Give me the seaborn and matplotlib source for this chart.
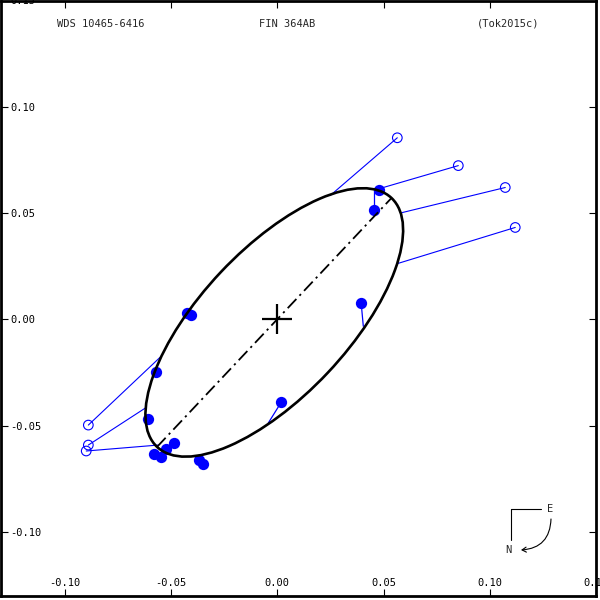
import numpy as np
import pandas as pd
import matplotlib
matplotlib.use("Agg")
import matplotlib.pyplot as plt
import seaborn as sns
from matplotlib.patches import Ellipse, FancyArrowPatch

# ---------------- data ----------------
# filled measurements (relative position of B w.r.t. A, arcsec)
obs_x = [0.0480, 0.0456, 0.0395, 0.0019, -0.0424, -0.0405, -0.0569, -0.0607,
         -0.0579, -0.0546, -0.0522, -0.0485, -0.0367, -0.0348]
obs_y = [0.0610, 0.0512, 0.0075, -0.0390, 0.0028, 0.0019, -0.0249, -0.0469,
         -0.0634, -0.0648, -0.0610, -0.0582, -0.0662, -0.0681]
# O-C segments of filled measurements (observed -> computed)
oc_obs_x = [0.0456, 0.0395, 0.0019]
oc_obs_y = [0.0512, 0.0075, -0.0390]
oc_fit_x = [0.0456, 0.0405, -0.0042]
oc_fit_y = [0.0606, -0.0033, -0.0488]
# open-circle measurements and their computed positions
open_x = [0.0565, 0.0852, 0.1073, 0.1120, -0.0889, -0.0889, -0.0899]
open_y = [0.0854, 0.0723, 0.0620, 0.0432, -0.0498, -0.0592, -0.0620]
open_fit_x = [0.0249, 0.0499, 0.0588, 0.0569, -0.0546, -0.0621, -0.0560]
open_fit_y = [0.0582, 0.0620, 0.0502, 0.0263, -0.0174, -0.0418, -0.0592]
# orbit ellipse
orbit_center = (-0.0014, -0.0015)
orbit_width = 0.1609
orbit_height = 0.0691
orbit_angle = 46.7
# line of apsides
apsides_x = [-0.0566, 0.0538]
apsides_y = [-0.0601, 0.0571]
# ticks
tick_values = [-0.10, -0.05, 0.00, 0.05, 0.10, 0.15]
tick_labels = ["-0.10", "-0.05", "0.00", "0.05", "0.10", "0.15"]
title_left = "WDS 10465-6416"
title_mid = "FIN 364AB"
title_right = "(Tok2015c)"

# ---------------- style ----------------
sns.set_theme(style="white")
plt.rcParams["font.family"] = ["DejaVu Sans Mono", "DejaVu Sans"]
plt.rcParams["axes.unicode_minus"] = False
FS = 7.5
BLUE = "#0000ff"

fig = plt.figure(figsize=(6, 6), dpi=100)
ax = fig.add_axes([1.0 / 600, 4.5 / 600, 595.0 / 600, 595.0 / 600])
ax.set_xlim(-0.13, 0.15)
ax.set_ylim(-0.13, 0.15)

# O-C lines
for xs, ys, xf, yf in zip(open_x, open_y, open_fit_x, open_fit_y):
    ax.plot([xs, xf], [ys, yf], color=BLUE, lw=0.8, zorder=1)
for xs, ys, xf, yf in zip(oc_obs_x, oc_obs_y, oc_fit_x, oc_fit_y):
    ax.plot([xs, xf], [ys, yf], color=BLUE, lw=0.9, zorder=1)

df_obs = pd.DataFrame({"x": obs_x, "y": obs_y})
df_open = pd.DataFrame({"x": open_x, "y": open_y})
sns.scatterplot(data=df_obs, x="x", y="y", ax=ax, color=BLUE, s=66,
                linewidth=0, zorder=2)
sns.scatterplot(data=df_open, x="x", y="y", ax=ax, s=48, marker="o",
                facecolor="none", edgecolor=BLUE, linewidth=0.8, zorder=2)

ell = Ellipse(orbit_center, orbit_width, orbit_height, angle=orbit_angle,
              fill=False, edgecolor="black", lw=1.9, zorder=3)
ax.add_patch(ell)
ax.plot(apsides_x, apsides_y, color="black", lw=1.3,
        dashes=(7, 2.5, 1.2, 2.5), zorder=3)
ax.plot([0], [0], marker="+", color="black", markersize=22, mew=1.6, zorder=4)

ax.set_xlabel("")
ax.set_ylabel("")
ax.set_xticks(tick_values)
ax.set_yticks(tick_values)
ax.set_xticklabels(tick_labels)
ax.set_yticklabels(tick_labels)
ax.tick_params(axis="both", which="both", direction="in", length=5, width=0.8,
               colors="black", labelsize=FS, top=True, right=True,
               bottom=True, left=True)
ax.tick_params(axis="x", pad=-12.5)
ax.tick_params(axis="y", pad=-6.5)
for lbl in ax.get_yticklabels():
    lbl.set_ha("left")
for sp in ax.spines.values():
    sp.set_visible(True)
    sp.set_color("black")
    sp.set_linewidth(2.0)
ax.legend_ = None

# header texts
fig.text(101 / 600, 1 - 24 / 600, title_left, ha="center", va="center", fontsize=FS)
fig.text(287 / 600, 1 - 24 / 600, title_mid, ha="center", va="center", fontsize=FS)
fig.text(508 / 600, 1 - 24 / 600, title_right, ha="center", va="center", fontsize=FS)

# compass
fig.add_artist(plt.Line2D([511 / 600, 541 / 600], [1 - 509 / 600, 1 - 509 / 600],
                          color="black", lw=0.8, transform=fig.transFigure))
fig.add_artist(plt.Line2D([511 / 600, 511 / 600], [1 - 509 / 600, 1 - 540 / 600],
                          color="black", lw=0.8, transform=fig.transFigure))
fig.text(550 / 600, 1 - 509 / 600, "E", ha="center", va="center", fontsize=FS)
fig.text(508 / 600, 1 - 550 / 600, "N", ha="center", va="center", fontsize=FS)
arr = FancyArrowPatch((551 / 600, 1 - 519 / 600), (521 / 600, 1 - 550 / 600),
                      transform=fig.transFigure, connectionstyle="arc3,rad=-0.45",
                      arrowstyle="->,head_length=3,head_width=1.8", lw=0.8,
                      color="black", shrinkA=0, shrinkB=0)
fig.add_artist(arr)

fig.savefig("out.png", dpi=100)
